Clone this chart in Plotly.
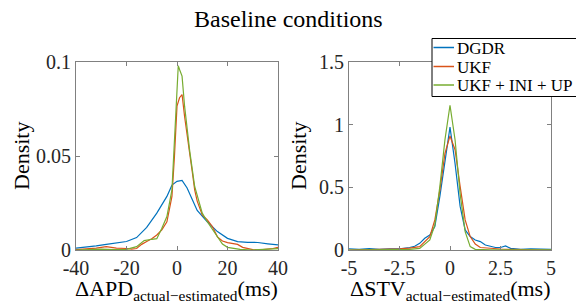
import plotly.graph_objects as go

# ---------------- data ----------------
apd_dgdr_x = [-40,-36,-32,-28,-24,-20,-16,-12,-8,-4,-2,0,2,4,6,8,12,16,20,24,28,32,36,40]
apd_dgdr_y = [0.001,0.0015,0.0022,0.003,0.0038,0.0045,0.0066,0.012,0.0196,0.0285,0.0345,0.0365,0.037,0.033,0.027,0.021,0.015,0.0098,0.0062,0.0045,0.0041,0.004,0.0033,0.0027]

apd_ukf_x = [-40,-36,-32,-28,-24,-20,-18,-16,-14,-12,-10,-8,-6,-4,-2,-1,0,1,2,3,4,5,6,7,8,10,12,14,16,18,20,22,24,26,28,30,32,35,38,40]
apd_ukf_y = [0.0002,0.0005,0.001,0.0018,0.001,0.0008,0.0005,0.0008,0.003,0.0045,0.006,0.008,0.0107,0.015,0.0285,0.05,0.0765,0.081,0.0827,0.071,0.06,0.0516,0.042,0.032,0.026,0.0187,0.016,0.0125,0.007,0.0048,0.0039,0.0036,0.003,0.0014,0.0006,0.0002,0.0,0.0002,0.0008,0.0014]

apd_full_x = [-40,-35,-30,-25,-20,-16,-13,-10,-8,-6,-4,-2,-1,0,0.5,1,2,3,4,5,7,10,12,15,18,20,25,30,35,40]
apd_full_y = [0,0.0003,0.0005,0.0002,0.0003,0.0018,0.005,0.0057,0.006,0.0116,0.0178,0.032,0.0587,0.09,0.098,0.096,0.0925,0.0765,0.063,0.053,0.0338,0.0196,0.015,0.0089,0.0032,0.0014,0.0003,0,0.0003,0.0007]

stv_dgdr_x = [-5,-4.5,-4,-3.5,-3,-2.5,-2,-1.75,-1.5,-1.25,-1,-0.75,-0.5,-0.25,0,0.25,0.5,0.75,1,1.25,1.5,1.75,2,2.25,2.5,2.75,3,3.5,4,4.5,5]
stv_dgdr_y = [0.01,0.005,0.012,0.005,0.01,0.01,0.02,0.03,0.053,0.093,0.12,0.187,0.43,0.72,0.98,0.69,0.35,0.16,0.107,0.08,0.067,0.04,0.027,0.02,0.02,0.032,0.013,0.005,0.01,0.005,0.005]

stv_ukf_x = [-5,-4,-3,-2.5,-2,-1.5,-1,-0.75,-0.5,-0.25,0,0.25,0.5,0.75,1,1.25,1.5,2,2.5,3,4,5]
stv_ukf_y = [0,0.003,0.005,0.01,0.015,0.027,0.107,0.24,0.48,0.77,0.91,0.80,0.51,0.24,0.107,0.048,0.02,0.012,0.008,0.005,0.002,0]

stv_full_x = [-5,-3,-2,-1.5,-1,-0.75,-0.5,-0.25,0,0.25,0.5,0.75,1,1.25,1.5,2,3,4,5]
stv_full_y = [0,0.002,0.005,0.013,0.08,0.2,0.51,0.88,1.155,0.88,0.45,0.147,0.027,0.005,0.002,0.001,0.001,0.003,0.002]

series_names = ["DGDR", "UKF", "UKF + INI + UP"]
series_colors = ["#0072BD", "#D95319", "#77AC30"]

apd_xticks = [-40, -20, 0, 20, 40]
apd_xtext = ["-40", "-20", "0", "20", "40"]
apd_yticks = [0, 0.05, 0.1]
apd_ytext = ["0", "0.05", "0.1"]
stv_xticks = [-5, -2.5, 0, 2.5, 5]
stv_xtext = ["-5", "-2.5", "0", "2.5", "5"]
stv_yticks = [0, 0.5, 1, 1.5]
stv_ytext = ["0", "0.5", "1", "1.5"]

# ---------------- figure ----------------
FONT = "Liberation Serif"
W, H = 576, 303
fig = go.Figure()

left = [(apd_dgdr_x, apd_dgdr_y), (apd_ukf_x, apd_ukf_y), (apd_full_x, apd_full_y)]
right = [(stv_dgdr_x, stv_dgdr_y), (stv_ukf_x, stv_ukf_y), (stv_full_x, stv_full_y)]

for i, (x, y) in enumerate(left):
    fig.add_trace(go.Scatter(x=x, y=y, mode="lines", name=series_names[i],
                             line=dict(color=series_colors[i], width=1.2),
                             xaxis="x", yaxis="y", showlegend=False))
for i, (x, y) in enumerate(right):
    fig.add_trace(go.Scatter(x=x, y=y, mode="lines", name=series_names[i],
                             line=dict(color=series_colors[i], width=1.2),
                             xaxis="x2", yaxis="y2", showlegend=False))

ydom = [1 - 250 / H, 1 - 62 / H]
axcommon = dict(showline=True, linecolor="#808080", linewidth=1, mirror="ticks",
                ticks="inside", ticklen=4, tickcolor="#808080", showgrid=False,
                zeroline=False, automargin=False,
                tickfont=dict(family=FONT, size=20, color="#262626"))

fig.update_layout(
    width=W, height=H,
    margin=dict(l=0, r=0, t=0, b=0),
    paper_bgcolor="white", plot_bgcolor="white",
    font=dict(family=FONT, color="#262626"),
    xaxis=dict(domain=[76 / W, 278 / W], range=[-40, 40], tickvals=apd_xticks,
               ticktext=apd_xtext, anchor="y", **axcommon),
    yaxis=dict(domain=ydom, range=[0, 0.1], tickvals=apd_yticks, ticktext=apd_ytext,
               anchor="x", **axcommon),
    xaxis2=dict(domain=[349 / W, 551 / W], range=[-5, 5], tickvals=stv_xticks,
                ticktext=stv_xtext, anchor="y2", **axcommon),
    yaxis2=dict(domain=ydom, range=[0, 1.5], tickvals=stv_yticks, ticktext=stv_ytext,
                anchor="x2", **axcommon),
    showlegend=False,
)

def px(v):
    return v / W

def py(v):
    return 1 - v / H

# manual legend (box, line samples, labels)
fig.add_shape(type="rect", xref="paper", yref="paper",
              x0=px(432), x1=px(577), y0=py(96.5), y1=py(38.5),
              line=dict(color="black", width=1), fillcolor="white", layer="above")
row_y = [47.5, 66.5, 85]
for i, name in enumerate(series_names):
    fig.add_shape(type="line", xref="paper", yref="paper",
                  x0=px(433.5), x1=px(454), y0=py(row_y[i]), y1=py(row_y[i]),
                  line=dict(color=series_colors[i], width=1.5), layer="above")
    fig.add_annotation(xref="paper", yref="paper", showarrow=False,
                       xanchor="left", yanchor="middle", x=px(454.5), y=py(row_y[i] + 0.5),
                       text=name, font=dict(family=FONT, size=17, color="black"))

annots = [
    dict(text="Baseline conditions", x=288, y=19, size=24, angle=0),
    dict(text="Density", x=21, y=156, size=22, angle=-90),
    dict(text="Density", x=298, y=156, size=22, angle=-90),
    dict(text="ΔAPD<sub>actual−estimated</sub>(ms)", x=176, y=290, size=22, angle=0),
    dict(text="ΔSTV<sub>actual−estimated</sub>(ms)", x=450, y=290, size=22, angle=0),
]
for a in annots:
    fig.add_annotation(xref="paper", yref="paper", showarrow=False,
                       xanchor="center", yanchor="middle",
                       font=dict(family=FONT, color="black", size=a["size"]),
                       text=a["text"], x=px(a["x"]), y=py(a["y"]), textangle=a["angle"])

fig.write_html("out.html", config={"displayModeBar": False},
               post_script="document.body.style.margin='0';document.body.style.overflow='hidden';")
